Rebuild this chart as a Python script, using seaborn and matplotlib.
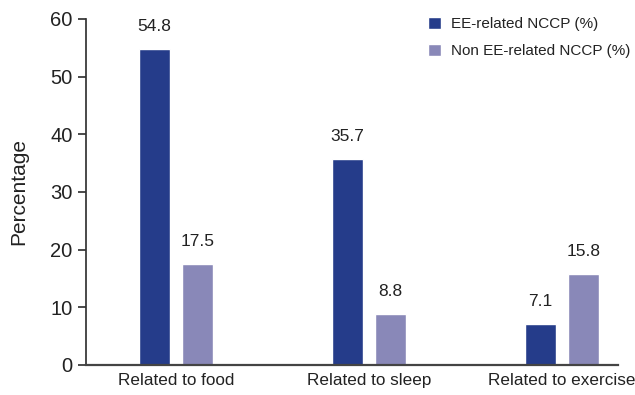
import matplotlib
matplotlib.use("Agg")
import matplotlib.pyplot as plt
import seaborn as sns
import pandas as pd

categories = ["Related to food", "Related to sleep", "Related to exercise"]
ee_related = [54.8, 35.7, 7.1]
non_ee_related = [17.5, 8.8, 15.8]
series_names = ["EE-related NCCP (%)", "Non EE-related NCCP (%)"]
y_ticks = [0, 10, 20, 30, 40, 50, 60]

df = pd.DataFrame({
    "Category": categories * 2,
    "Value": ee_related + non_ee_related,
    "Group": [series_names[0]] * 3 + [series_names[1]] * 3,
})

sns.set_theme(style="ticks")
plt.rcParams["font.family"] = ["Liberation Sans Narrow", "Liberation Sans", "DejaVu Sans"]

fig = plt.figure(figsize=(6.35, 3.95), dpi=100)
ax = fig.add_axes([0.135, 0.076, 0.838, 0.876])

palette = ["#253C8A", "#8988B8"]
sns.barplot(data=df, x="Category", y="Value", hue="Group", palette=palette,
            width=0.446, gap=0.28, saturation=1, ax=ax, legend=True)

for cont in ax.containers:
    ax.bar_label(cont, fmt="%.1f", padding=11, fontsize=12.5, color="#222222")

ax.set_ylim(0, 60)
ax.set_yticks(y_ticks)
ax.set_xlim(-0.467, 2.29)
ax.set_xlabel("")
ax.set_ylabel("Percentage", fontsize=15, color="#222222", labelpad=16)
ax.tick_params(axis="y", labelsize=14.5, length=6, color="#333333", labelcolor="#222222")
ax.tick_params(axis="x", labelsize=12.3, length=0, pad=6, labelcolor="#222222")
sns.despine(ax=ax)
ax.spines["left"].set_color("#333333")
ax.spines["bottom"].set_color("#444444")
ax.spines["bottom"].set_linewidth(1.6)

leg = ax.legend(loc="upper right", bbox_to_anchor=(1.05, 1.045), frameon=False,
                fontsize=11, handlelength=0.8, handleheight=0.8,
                handletextpad=0.7, labelspacing=0.85)
for t in leg.get_texts():
    t.set_color("#222222")

fig.savefig("out.png", dpi=100)
